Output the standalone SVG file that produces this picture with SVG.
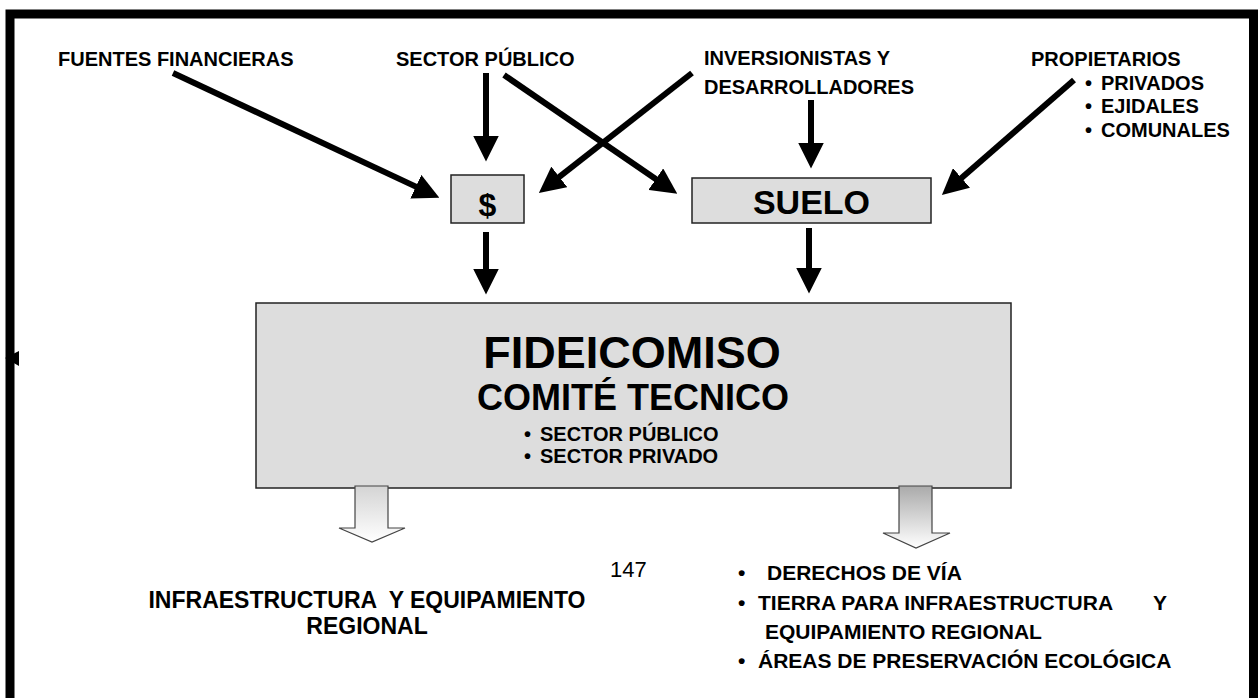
<svg xmlns="http://www.w3.org/2000/svg" width="1258" height="698" viewBox="0 0 1258 698">
<style>
text{font-family:"Liberation Sans",Arial,sans-serif;font-weight:bold;fill:#000;white-space:pre}
.lbl{font-size:20px}
.box{fill:#dddddd;stroke:#222;stroke-width:1.5}
.arr{stroke:#000;stroke-width:6;fill:none;marker-end:url(#ah)}
.hollow{stroke:#444;stroke-width:1.2}
.list{font-size:21px}
</style>
<defs>
<marker id="ah" markerUnits="userSpaceOnUse" markerWidth="26" markerHeight="26" viewBox="0 0 24 24" refX="6" refY="12" orient="auto">
<path d="M0,0 L24,12 L0,24 Z" fill="#000"/>
</marker>
<linearGradient id="gL" x1="0" y1="0" x2="0" y2="1">
<stop offset="0" stop-color="#d4d4d4"/><stop offset="1" stop-color="#ffffff"/>
</linearGradient>
<linearGradient id="gR" x1="0" y1="0" x2="0" y2="1">
<stop offset="0" stop-color="#aaaaaa"/><stop offset="1" stop-color="#ffffff"/>
</linearGradient>
</defs>
<rect width="1258" height="698" fill="#fff"/>
<g id="frame">
<path d="M10,698 V14 H1253.5 V698" fill="none" stroke="#000" stroke-width="9"/>
<polygon points="5,358 19,351 19,366" fill="#000"/>
</g>
<g id="connectors">
<line class="arr" x1="173" y1="73" x2="421.7" y2="189.4"/>
<line class="arr" x1="486" y1="73" x2="486" y2="142"/>
<line class="arr" x1="504" y1="75" x2="661.2" y2="182.8"/>
<line class="arr" x1="692" y1="73" x2="554.2" y2="180.9"/>
<line class="arr" x1="811" y1="100" x2="811" y2="149"/>
<line class="arr" x1="1074" y1="80" x2="956.6" y2="182.2"/>
<line class="arr" x1="486" y1="232" x2="486" y2="275"/>
<line class="arr" x1="809" y1="228" x2="809" y2="274"/>
</g>
<g id="fuentes"><text class="lbl" x="58" y="66">FUENTES FINANCIERAS</text></g>
<g id="sector-publico"><text class="lbl" x="396" y="66">SECTOR PÚBLICO</text></g>
<g id="inversionistas">
<text class="lbl" x="704" y="65">INVERSIONISTAS Y</text>
<text class="lbl" x="704" y="94">DESARROLLADORES</text>
</g>
<g id="propietarios">
<text class="lbl" x="1031" y="66">PROPIETARIOS</text>
<text class="lbl" x="1085" y="90">•</text><text class="lbl" x="1101" y="90">PRIVADOS</text>
<text class="lbl" x="1085" y="113">•</text><text class="lbl" x="1101" y="113">EJIDALES</text>
<text class="lbl" x="1085" y="137">•</text><text class="lbl" x="1101" y="137">COMUNALES</text>
</g>
<g id="dinero">
<rect class="box" x="451" y="175" width="73" height="48"/>
<text x="487.5" y="216" font-size="32" text-anchor="middle">$</text>
</g>
<g id="suelo">
<rect class="box" x="692" y="178" width="239" height="45"/>
<text x="811.5" y="214" font-size="34" text-anchor="middle">SUELO</text>
</g>
<g id="fideicomiso">
<rect class="box" x="256" y="303" width="755" height="185"/>
<text x="632" y="368" font-size="45" text-anchor="middle">FIDEICOMISO</text>
<text x="633" y="410" font-size="36" text-anchor="middle">COMITÉ TECNICO</text>
<text class="lbl" x="524" y="441">•</text><text class="lbl" x="540" y="441">SECTOR PÚBLICO</text>
<text class="lbl" x="524" y="463">•</text><text class="lbl" x="540" y="463">SECTOR PRIVADO</text>
</g>
<g id="salidas">
<path class="hollow" fill="url(#gL)" d="M355,486 H388 V528 H405 L372,542 L339,528 H355 Z"/>
<path class="hollow" fill="url(#gR)" d="M899,486 H932 V533 H950 L916,548 L883,533 H899 Z"/>
</g>
<g id="infraestructura">
<text x="367" y="608" font-size="23" text-anchor="middle">INFRAESTRUCTURA  Y EQUIPAMIENTO</text>
<text x="367" y="634" font-size="23" text-anchor="middle">REGIONAL</text>
</g>
<g id="pagina"><text x="610" y="577" font-size="22" style="font-weight:normal">147</text></g>
<g id="suelo-destinos">
<text class="list" x="738" y="580">•</text><text class="list" x="767" y="580">DERECHOS DE VÍA</text>
<text class="list" x="738" y="610">•</text><text class="list" x="758" y="610">TIERRA PARA INFRAESTRUCTURA<tspan x="1153">Y</tspan></text>
<text class="list" x="765" y="639">EQUIPAMIENTO REGIONAL</text>
<text class="list" x="738" y="668">•</text><text class="list" x="758" y="668">ÁREAS DE PRESERVACIÓN ECOLÓGICA</text>
</g>
</svg>
